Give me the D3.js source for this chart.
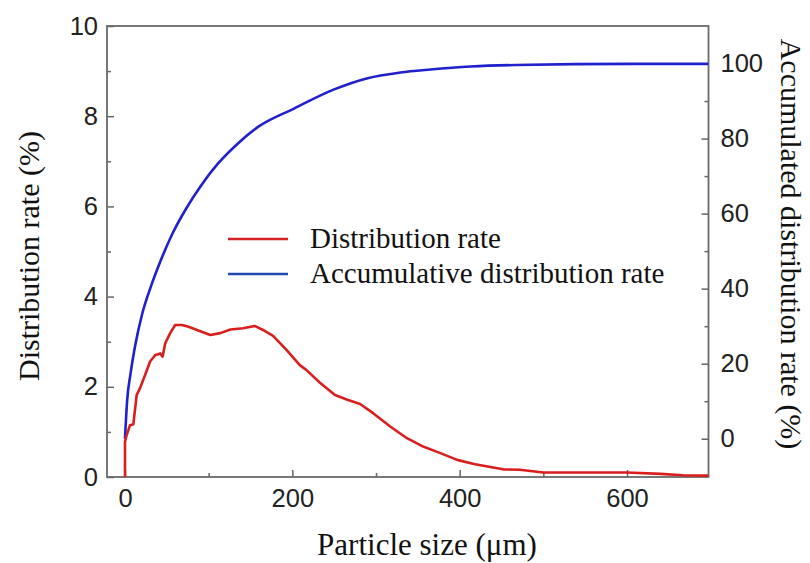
<!DOCTYPE html>
<html>
<head>
<meta charset="utf-8">
<script src="https://cdn.jsdelivr.net/npm/d3@7"></script>
<style>
  html, body { margin: 0; padding: 0; background: #ffffff; }
  svg { display: block; }
  .tick text { font-family: "Liberation Sans", Arial, sans-serif; font-size: 25.5px; fill: #222; }
  .tick line { stroke: #666; stroke-width: 1.5; }
  .title { font-family: "Liberation Serif", "Times New Roman", serif; fill: #111; }
</style>
</head>
<body>
<svg id="chart" width="810" height="563"></svg>
<script>
// Particle size (µm) and distribution rate (%) of the frequency curve
const sizeDist = [0, 0, 2, 6, 10, 14, 18, 24, 30, 36, 42, 45, 48, 54, 60, 68, 76, 86, 102, 114, 126, 141, 155, 165, 177, 193, 209, 217, 233, 251, 265, 281, 297, 317, 337, 357, 377, 397, 417, 440, 452, 472, 500, 600, 640, 667, 697];
const rateDist = [0, 0.78, 0.93, 1.15, 1.17, 1.82, 1.97, 2.26, 2.56, 2.70, 2.74, 2.67, 2.96, 3.19, 3.37, 3.37, 3.33, 3.26, 3.15, 3.19, 3.27, 3.30, 3.35, 3.26, 3.13, 2.82, 2.48, 2.37, 2.09, 1.82, 1.72, 1.62, 1.41, 1.12, 0.86, 0.67, 0.53, 0.38, 0.29, 0.21, 0.17, 0.16, 0.10, 0.10, 0.07, 0.04, 0.03];

// Particle size (µm) and accumulated distribution rate (%)
const sizeCum = [0, 2.6, 6.6, 12.6, 20.6, 30.7, 42.7, 56.8, 73, 91, 111, 135, 159, 202, 250, 290, 329, 365, 413, 467, 607, 697];
const rateCum = [0, 10.2, 17.3, 25.3, 33.3, 40.4, 47.5, 54.7, 61.3, 67.5, 73.3, 78.7, 83.1, 88.0, 93.1, 96.1, 97.6, 98.4, 99.2, 99.6, 99.9, 99.9];

// Tick values
const xTicks = [0, 200, 400, 600];
const xMinor = [100, 300, 500];
const leftTicks = [0, 2, 4, 6, 8, 10];
const leftMinor = [1, 3, 5, 7, 9];
const rightTicks = [0, 20, 40, 60, 80, 100];
const rightMinor = [10, 30, 50, 70, 90];

// Legend entries
const legendLabels = ["Distribution rate", "Accumulative distribution rate"];
const legendColors = ["#d42222", "#2448b0"];

const plot = { left: 107, right: 708.5, top: 26, bottom: 477 };

const svg = d3.select("#chart");

const x = d3.scaleLinear().domain([-21.5, 697.4]).range([plot.left, plot.right]);
const yL = d3.scaleLinear().domain([0, 10]).range([plot.bottom, plot.top]);
const yR = d3.scaleLinear().domain([-10.2, 110]).range([plot.bottom, plot.top]);

// Axes with inward ticks
function styleAxis(g) {
  g.select(".domain").remove();
}
svg.append("g").attr("transform", `translate(0,${plot.bottom})`)
  .call(d3.axisBottom(x).tickValues(xTicks).tickSize(-7).tickSizeOuter(0).tickPadding(11.5).tickFormat(d3.format("d")))
  .call(styleAxis);
svg.append("g").attr("transform", `translate(0,${plot.bottom})`)
  .call(d3.axisBottom(x).tickValues(xMinor).tickSize(-4).tickSizeOuter(0).tickFormat(""))
  .call(styleAxis);

svg.append("g").attr("transform", `translate(${plot.left},0)`)
  .call(d3.axisLeft(yL).tickValues(leftTicks).tickSize(-7).tickSizeOuter(0).tickPadding(9).tickFormat(d3.format("d")))
  .call(styleAxis);
svg.append("g").attr("transform", `translate(${plot.left},0)`)
  .call(d3.axisLeft(yL).tickValues(leftMinor).tickSize(-4).tickSizeOuter(0).tickFormat(""))
  .call(styleAxis);

svg.append("g").attr("transform", `translate(${plot.right},0)`)
  .call(d3.axisRight(yR).tickValues(rightTicks).tickSize(-7).tickSizeOuter(0).tickPadding(12).tickFormat(d3.format("d")))
  .call(styleAxis);
svg.append("g").attr("transform", `translate(${plot.right},0)`)
  .call(d3.axisRight(yR).tickValues(rightMinor).tickSize(-4).tickSizeOuter(0).tickFormat(""))
  .call(styleAxis);

// Plot frame
svg.append("rect")
  .attr("x", plot.left).attr("y", plot.top)
  .attr("width", plot.right - plot.left).attr("height", plot.bottom - plot.top)
  .attr("fill", "none").attr("stroke", "#6a6a6a").attr("stroke-width", 1.8);

// Curves
const distData = sizeDist.map((s, i) => ({ s, v: rateDist[i] }));
const cumData = sizeCum.map((s, i) => ({ s, v: rateCum[i] }));

svg.append("path")
  .datum(cumData)
  .attr("fill", "none")
  .attr("stroke", "#2020cc")
  .attr("stroke-width", 2.6)
  .attr("d", d3.line().x(d => x(d.s)).y(d => yR(d.v)).curve(d3.curveMonotoneX));

svg.append("path")
  .datum(distData)
  .attr("fill", "none")
  .attr("stroke", "#da1e1e")
  .attr("stroke-width", 2.6)
  .attr("stroke-linejoin", "round")
  .attr("d", d3.line().x(d => x(d.s)).y(d => yL(d.v)));

// Legend
const legend = svg.append("g");
legendLabels.forEach((label, i) => {
  const cy = 239 + i * 35;
  legend.append("line")
    .attr("x1", 228).attr("x2", 288).attr("y1", cy).attr("y2", cy)
    .attr("stroke", legendColors[i]).attr("stroke-width", 2.5);
  legend.append("text")
    .attr("class", "title")
    .attr("x", 310).attr("y", cy + 8.5)
    .attr("font-size", 29)
    .text(label);
});

// Axis titles
svg.append("text")
  .attr("class", "title")
  .attr("font-size", 31)
  .attr("text-anchor", "middle")
  .attr("x", 427).attr("y", 555)
  .text("Particle size (\u03bcm)");

svg.append("text")
  .attr("class", "title")
  .attr("font-size", 30)
  .attr("text-anchor", "middle")
  .attr("transform", `translate(39,256) rotate(-90)`)
  .text("Distribution rate (%)");

svg.append("text")
  .attr("class", "title")
  .attr("font-size", 30)
  .attr("text-anchor", "middle")
  .attr("transform", `translate(781,244) rotate(90)`)
  .text("Accumulated distribution rate (%)");
</script>
</body>
</html>
